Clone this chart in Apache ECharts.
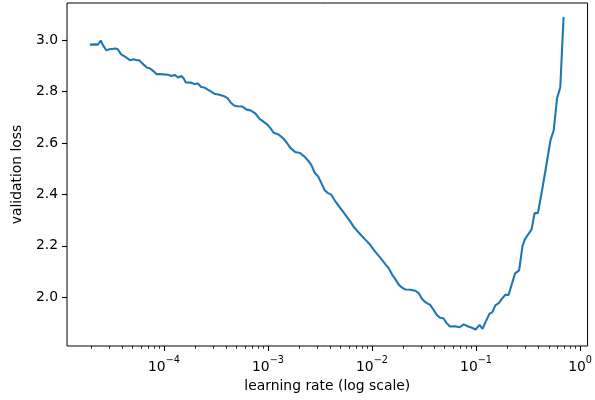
<!DOCTYPE html>
<html><head><meta charset="utf-8">
<script src="https://cdn.jsdelivr.net/npm/echarts@6/dist/echarts.min.js"></script>
<style>html,body{margin:0;padding:0;background:#fff}#c{width:595px;height:400px}</style>
</head><body><div id="c"></div>
<script>
const learningRate = [
  1.94e-5, 2.21e-5, 2.32e-5, 2.47e-5, 2.59e-5, 2.79e-5, 3.00e-5, 3.42e-5, 3.60e-5, 3.88e-5,
  4.26e-5, 4.75e-5, 5.11e-5, 5.50e-5, 5.79e-5, 6.22e-5, 6.85e-5, 7.36e-5, 7.91e-5, 8.52e-5,
  9.16e-5, 1.10e-4, 1.18e-4, 1.27e-4, 1.37e-4, 1.47e-4, 1.55e-4, 1.62e-4, 1.83e-4, 1.97e-4,
  2.12e-4, 2.28e-4, 2.45e-4, 2.64e-4, 2.84e-4, 3.05e-4, 3.41e-4, 3.80e-4, 4.08e-4, 4.40e-4,
  4.73e-4, 5.08e-4, 5.67e-4, 6.24e-4, 6.81e-4, 7.60e-4, 8.35e-4, 9.11e-4, 9.80e-4, 1.055e-3,
  1.134e-3, 1.265e-3, 1.411e-3, 1.517e-3, 1.634e-3, 1.823e-3, 2.034e-3, 2.269e-3, 2.493e-3, 2.621e-3,
  2.823e-3, 3.035e-3, 3.262e-3, 3.513e-3, 3.778e-3, 4.061e-3, 4.374e-3, 4.880e-3, 5.443e-3, 6.073e-3,
  6.774e-3, 7.558e-3, 8.432e-3, 9.406e-3, 1.049e-2, 1.171e-2, 1.258e-2, 1.352e-2, 1.457e-2, 1.566e-2,
  1.683e-2, 1.813e-2, 1.949e-2, 2.095e-2, 2.337e-2, 2.608e-2, 2.809e-2, 3.019e-2, 3.245e-2, 3.620e-2,
  3.899e-2, 4.192e-2, 4.505e-2, 4.853e-2, 5.216e-2, 5.606e-2, 6.254e-2, 6.977e-2, 7.615e-2, 8.386e-2,
  9.013e-2, 9.901e-2, 0.1081, 0.1154, 0.1232, 0.1345, 0.1436, 0.1533, 0.1652, 0.1776,
  0.1909, 0.2056, 0.2211, 0.2375, 0.2593, 0.2793, 0.2937, 0.3117, 0.3422, 0.3655,
  0.3929, 0.4169, 0.4480, 0.4826, 0.5188, 0.5576, 0.6006, 0.6457, 0.6939
];
const validationLoss = [
  2.983, 2.984, 2.983, 2.999, 2.981, 2.961, 2.965, 2.968, 2.965, 2.945,
  2.935, 2.922, 2.926, 2.922, 2.922, 2.909, 2.894, 2.890, 2.880, 2.868,
  2.868, 2.866, 2.861, 2.865, 2.855, 2.861, 2.851, 2.836, 2.835, 2.830,
  2.832, 2.818, 2.816, 2.808, 2.800, 2.792, 2.788, 2.782, 2.775, 2.757,
  2.746, 2.743, 2.742, 2.730, 2.727, 2.714, 2.693, 2.682, 2.673, 2.658,
  2.640, 2.633, 2.617, 2.601, 2.582, 2.565, 2.561, 2.545, 2.526, 2.513,
  2.483, 2.470, 2.444, 2.416, 2.405, 2.399, 2.377, 2.351, 2.325, 2.299,
  2.270, 2.249, 2.228, 2.208, 2.182, 2.159, 2.143, 2.127, 2.111, 2.087,
  2.069, 2.048, 2.037, 2.030, 2.029, 2.025, 2.016, 1.994, 1.981, 1.970,
  1.951, 1.931, 1.920, 1.918, 1.899, 1.886, 1.887, 1.883, 1.894, 1.886,
  1.882, 1.874, 1.892, 1.877, 1.903, 1.935, 1.942, 1.968, 1.977, 1.994,
  2.009, 2.009, 2.052, 2.093, 2.104, 2.198, 2.224, 2.240, 2.264, 2.327,
  2.327, 2.383, 2.455, 2.533, 2.610, 2.649, 2.773, 2.818, 3.091
];
const xMajorTicks = [1e-4, 1e-3, 1e-2, 1e-1, 1];
const xMinorTicks = [
  2e-5, 3e-5, 4e-5, 5e-5, 6e-5, 7e-5, 8e-5, 9e-5,
  2e-4, 3e-4, 4e-4, 5e-4, 6e-4, 7e-4, 8e-4, 9e-4,
  2e-3, 3e-3, 4e-3, 5e-3, 6e-3, 7e-3, 8e-3, 9e-3,
  2e-2, 3e-2, 4e-2, 5e-2, 6e-2, 7e-2, 8e-2, 9e-2,
  0.2, 0.3, 0.4, 0.5, 0.6, 0.7, 0.8, 0.9
];
const yTicks = [2.0, 2.2, 2.4, 2.6, 2.8, 3.0];
const xRange = [1.17e-5, 1.18];
const yRange = [1.81, 3.145];

const FONT = 'DejaVu Sans';
const FS = 13.9;
const chart = echarts.init(document.getElementById('c'), null, {renderer: 'canvas'});
const points = learningRate.map((x, i) => [x, validationLoss[i]]);

function expLabel(v) {
  const e = Math.round(Math.log10(v));
  return '{b|10}{s|' + (e < 0 ? '\u2212' + (-e) : String(e)) + '}';
}

chart.setOption({
  animation: false,
  backgroundColor: '#fff',
  grid: {left: 67, right: 2, top: 3, bottom: 54, show: true, borderColor: '#000', borderWidth: 1, backgroundColor: 'transparent'},
  xAxis: [{
    type: 'log', logBase: 10, min: xRange[0], max: xRange[1], position: 'bottom',
    axisLine: {show: false},
    axisTick: {show: true, customValues: xMajorTicks, length: 5, lineStyle: {color: '#000', width: 1.1}},
    axisLabel: {
      customValues: xMajorTicks, margin: 9, formatter: expLabel,
      rich: {
        b: {fontFamily: FONT, fontSize: FS, color: '#000', verticalAlign: 'bottom', lineHeight: 19},
        s: {fontFamily: FONT, fontSize: 9.7, color: '#000', verticalAlign: 'top', lineHeight: 19}
      }
    },
    splitLine: {show: false}, minorTick: {show: false},
    name: 'learning rate (log scale)', nameLocation: 'middle', nameGap: 31,
    nameTextStyle: {fontFamily: FONT, fontSize: FS, color: '#000'}
  }, {
    type: 'log', logBase: 10, min: xRange[0], max: xRange[1], position: 'bottom',
    axisLine: {show: false},
    axisTick: {show: true, customValues: xMinorTicks, length: 2.8, lineStyle: {color: '#000', width: 0.8}},
    axisLabel: {show: false},
    splitLine: {show: false}
  }],
  yAxis: {
    type: 'value', min: yRange[0], max: yRange[1],
    axisLine: {show: false},
    axisTick: {show: true, customValues: yTicks, length: 5, lineStyle: {color: '#000', width: 1.1}},
    axisLabel: {customValues: yTicks, margin: 9, formatter: v => v.toFixed(1), fontFamily: FONT, fontSize: FS, color: '#000'},
    splitLine: {show: false},
    name: 'validation loss', nameLocation: 'middle', nameGap: 43,
    nameTextStyle: {fontFamily: FONT, fontSize: FS, color: '#000'}
  },
  series: [{
    type: 'line', xAxisIndex: 0, yAxisIndex: 0, data: points,
    symbol: 'none', showSymbol: false,
    lineStyle: {color: '#1f77b4', width: 2.1}
  }]
});
</script></body></html>
